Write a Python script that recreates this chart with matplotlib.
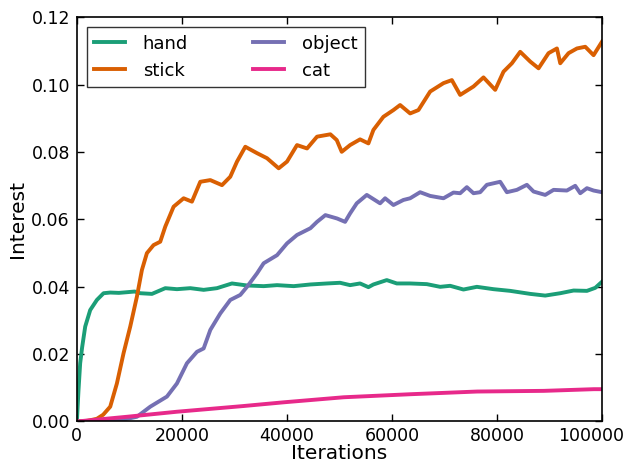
import numpy as np
import matplotlib
matplotlib.use("Agg")
import matplotlib.pyplot as plt
import matplotlib.transforms as mtransforms

# values
hand_x = [0, 300, 630, 1000, 1590, 2540, 3810, 5080, 6350, 8000, 9520, 11000, 12060,
          14290, 16830, 19050, 21590, 24130, 26670, 29520, 32380, 35550, 38100,
          41270, 44450, 47620, 50100, 52000, 53900, 55490, 56440, 58980, 60890,
          63430, 66600, 69140, 71050, 73580, 76130, 79300, 82480, 86290, 89140,
          92000, 94540, 97080, 98670, 99940]
hand_y = [0.0, 0.009, 0.0173, 0.022, 0.0282, 0.0331, 0.0361, 0.0381, 0.0383, 0.0382,
          0.0384, 0.0386, 0.0381, 0.0379, 0.0396, 0.0393, 0.0396, 0.0391, 0.0396,
          0.0410, 0.0404, 0.0402, 0.0405, 0.0402, 0.0407, 0.0410, 0.0412, 0.0405,
          0.0410, 0.0399, 0.0407, 0.0420, 0.0410, 0.0410, 0.0408, 0.0400, 0.0403,
          0.0392, 0.0400, 0.0393, 0.0388, 0.0379, 0.0374, 0.0381, 0.0389, 0.0388,
          0.0397, 0.0415]

stick_x = [0, 2000, 3800, 5000, 6350, 7620, 8890, 10160, 11430, 12380, 13330, 14600,
           15870, 16830, 18410, 20320, 21900, 23490, 25400, 27620, 29200, 30480,
           32060, 34290, 36190, 38410, 40000, 41900, 43810, 45710, 48250, 49460,
           50410, 52000, 53900, 55490, 56440, 58340, 60250, 61520, 63430, 65010,
           67240, 69780, 71370, 72950, 75490, 77390, 79620, 81200, 82800, 84380,
           86290, 87870, 89770, 91370, 92000, 93580, 95180, 96760, 98340, 99940]
stick_y = [0.0, 0.0002, 0.0008, 0.0020, 0.0044, 0.0113, 0.0203, 0.0282, 0.0371, 0.0450,
           0.0500, 0.0524, 0.0534, 0.0579, 0.0638, 0.0663, 0.0653, 0.0712, 0.0717,
           0.0702, 0.0727, 0.0772, 0.0816, 0.0797, 0.0782, 0.0752, 0.0772, 0.0821,
           0.0811, 0.0846, 0.0853, 0.0836, 0.0801, 0.0821, 0.0838, 0.0826, 0.0866,
           0.0905, 0.0925, 0.0940, 0.0915, 0.0925, 0.0980, 0.1005, 0.1014, 0.0970,
           0.0995, 0.1022, 0.0985, 0.1039, 0.1064, 0.1098, 0.1069, 0.1049, 0.1094,
           0.1108, 0.1064, 0.1094, 0.1108, 0.1113, 0.1088, 0.1128]

object_x = [0, 5000, 9000, 11430, 13970, 17140, 19050, 20950, 22860, 24130, 25400,
            27300, 29200, 31110, 32380, 34290, 35550, 38100, 40000, 41900, 44450,
            45710, 47300, 49520, 51050, 52000, 53270, 55180, 57710, 58670, 60250,
            62150, 63430, 65330, 67240, 69780, 71680, 72950, 74220, 75490, 76760,
            78030, 80570, 81840, 83750, 85650, 86920, 89140, 90730, 93260, 94850,
            95810, 97080, 98340, 99940]
object_y = [0.0, 0.0002, 0.0006, 0.0014, 0.0044, 0.0074, 0.0113, 0.0173, 0.0207,
            0.0217, 0.0272, 0.0321, 0.0361, 0.0376, 0.0400, 0.0440, 0.0470, 0.0494,
            0.0529, 0.0554, 0.0574, 0.0593, 0.0613, 0.0603, 0.0593, 0.0618, 0.0648,
            0.0673, 0.0648, 0.0663, 0.0643, 0.0658, 0.0663, 0.0681, 0.0670, 0.0663,
            0.0680, 0.0678, 0.0696, 0.0678, 0.0681, 0.0703, 0.0712, 0.0681, 0.0688,
            0.0703, 0.0683, 0.0673, 0.0688, 0.0686, 0.0700, 0.0678, 0.0693, 0.0686,
            0.0681]

cat_x = [0, 9520, 19050, 31750, 39370, 50800, 63490, 76190, 88890, 98410, 100000]
cat_y = [0.0, 0.0014, 0.0029, 0.0046, 0.0057, 0.0072, 0.0081, 0.0089, 0.0091, 0.0096, 0.0096]

fig = plt.figure(figsize=(6.3, 4.66), dpi=100)
ax = fig.add_axes([0.122, 0.0955, 0.834, 0.867])

lw = 2.8
ax.plot(hand_x, hand_y, color="#1b9e77", lw=lw, label="hand")
ax.plot(stick_x, stick_y, color="#d95f02", lw=lw, label="stick")
ax.plot(object_x, object_y, color="#7570b3", lw=lw, label="object")
ax.plot(cat_x, cat_y, color="#e7298a", lw=lw, label="cat")

ax.set_xlim(0, 100000)
ax.set_ylim(0, 0.12)
ax.set_xticks([0, 20000, 40000, 60000, 80000, 100000])
ax.set_yticks([0.0, 0.02, 0.04, 0.06, 0.08, 0.10, 0.12])
ax.set_yticklabels(["0.00", "0.02", "0.04", "0.06", "0.08", "0.10", "0.12"])
ax.tick_params(direction="in", top=True, right=True, length=5, width=1,
               labelsize=12.5, pad=4)
ax.tick_params(axis="y", pad=5)
for s in ax.spines.values():
    s.set_linewidth(1.2)
ax.set_xlabel("Iterations", fontsize=14.5, labelpad=-1)
ax.set_ylabel("Interest", fontsize=14.5, labelpad=3)

# last x tick label sits a bit left of its tick in the original
last = ax.get_xticklabels()[-1]
last.set_transform(last.get_transform() +
                   mtransforms.ScaledTranslation(-0.11, 0, fig.dpi_scale_trans))

leg = ax.legend(loc="upper left", ncol=2, fontsize=13, fancybox=False,
                handlelength=1.7, handletextpad=1.0, columnspacing=3.6,
                borderaxespad=0.55)
leg.get_frame().set_edgecolor("black")
leg.get_frame().set_linewidth(1.0)

fig.savefig("out.png", dpi=100)
